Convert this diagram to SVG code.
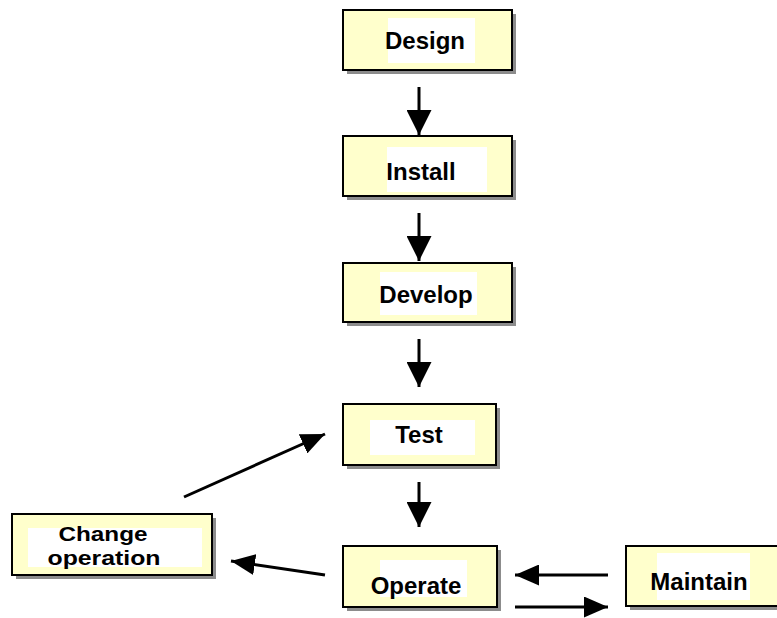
<svg xmlns="http://www.w3.org/2000/svg" width="777" height="618" viewBox="0 0 777 618">
  <style>
    .shadow { fill: #8c8c8c; }
    .box { fill: #ffffcc; stroke: #000; stroke-width: 2; }
    .bg { fill: #ffffff; }
    .label { font-family: "Liberation Sans", Arial, sans-serif; font-weight: bold; font-size: 24px; fill: #000; text-anchor: middle; }
    .small { font-size: 20px; }
    .conn { stroke: #000; stroke-width: 3; fill: none; }
    .v { marker-end: url(#headV); }
    .h { marker-end: url(#headH); }
  </style>
  <defs>
    <marker id="headV" markerUnits="userSpaceOnUse" viewBox="0 0 25 25" markerWidth="25" markerHeight="25" refX="25" refY="12.5" orient="auto">
      <path d="M0,0 L25,12.5 L0,25 Z" fill="#000"/>
    </marker>
    <marker id="headH" markerUnits="userSpaceOnUse" viewBox="0 0 24 21" markerWidth="24" markerHeight="21" refX="24" refY="10.5" orient="auto">
      <path d="M0,0 L24,10.5 L0,21 Z" fill="#000"/>
    </marker>
  </defs>
  <rect width="777" height="618" fill="#ffffff"/>

  <g id="design">
    <rect class="shadow" x="347" y="14" width="169" height="60"/>
    <rect class="box" x="343" y="10" width="169" height="60"/>
    <rect class="bg" x="388" y="18" width="87" height="45"/>
    <text class="label" x="425" y="49">Design</text>
  </g>
  <g id="install">
    <rect class="shadow" x="347" y="140" width="169" height="60"/>
    <rect class="box" x="343" y="136" width="169" height="60"/>
    <rect class="bg" x="387" y="147" width="100" height="45"/>
    <text class="label" x="421" y="180">Install</text>
  </g>
  <g id="develop">
    <rect class="shadow" x="347" y="267" width="169" height="59"/>
    <rect class="box" x="343" y="263" width="169" height="59"/>
    <rect class="bg" x="380" y="272" width="97" height="43"/>
    <text class="label" x="426" y="303">Develop</text>
  </g>
  <g id="test">
    <rect class="shadow" x="347" y="408" width="153" height="61"/>
    <rect class="box" x="343" y="404" width="153" height="61"/>
    <rect class="bg" x="370" y="420" width="105" height="35"/>
    <text class="label" x="419" y="443">Test</text>
  </g>
  <g id="operate">
    <rect class="shadow" x="347" y="550" width="154" height="61"/>
    <rect class="box" x="343" y="546" width="154" height="61"/>
    <rect class="bg" x="380" y="560" width="87" height="37"/>
    <text class="label" x="416" y="594">Operate</text>
  </g>
  <g id="maintain">
    <rect class="shadow" x="630" y="550" width="200" height="60"/>
    <rect class="box" x="626" y="546" width="200" height="60"/>
    <rect class="bg" x="657" y="553" width="93" height="47"/>
    <text class="label" x="699" y="590">Maintain</text>
  </g>
  <g id="change-operation">
    <rect class="shadow" x="16" y="518" width="200" height="61"/>
    <rect class="box" x="12" y="514" width="200" height="61"/>
    <rect class="bg" x="28" y="528" width="174" height="39"/>
    <text class="label small" x="103" y="541" textLength="89" lengthAdjust="spacingAndGlyphs">Change</text>
    <text class="label small" x="104" y="565" textLength="113" lengthAdjust="spacingAndGlyphs">operation</text>
  </g>

  <g id="connectors">
    <line class="conn v" x1="419" y1="87" x2="419" y2="135"/>
    <line class="conn v" x1="419" y1="213" x2="419" y2="261"/>
    <line class="conn v" x1="419" y1="339" x2="419" y2="387"/>
    <line class="conn v" x1="419" y1="482" x2="419" y2="527"/>
    <line class="conn h" x1="608" y1="575" x2="515" y2="575"/>
    <line class="conn h" x1="515" y1="607" x2="608" y2="607"/>
    <line class="conn h" x1="325" y1="575" x2="231" y2="561"/>
    <line class="conn h" x1="184" y1="497" x2="325" y2="434"/>
  </g>
</svg>
